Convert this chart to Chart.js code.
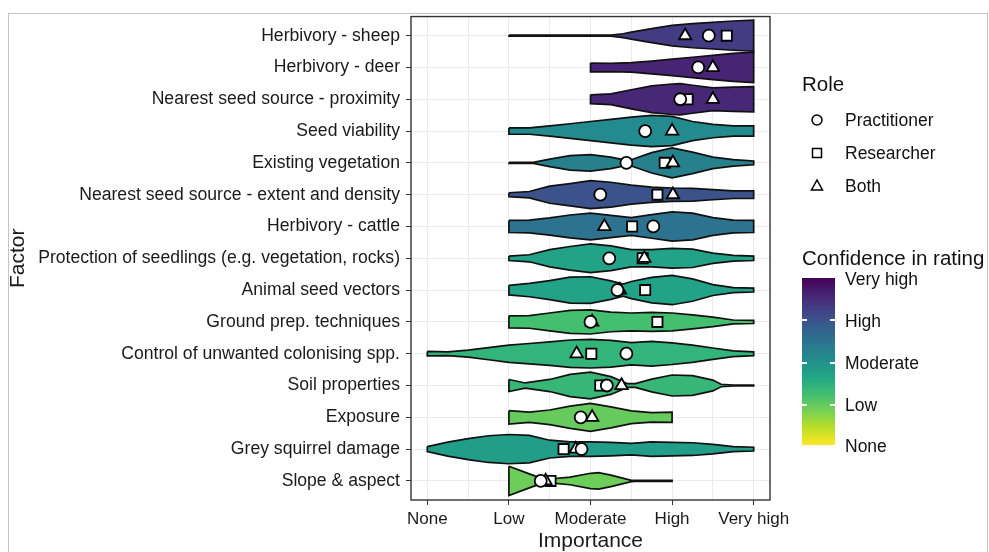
<!DOCTYPE html>
<html>
<head>
<meta charset="utf-8">
<script src="https://cdn.jsdelivr.net/npm/chart.js@4.4.1/dist/chart.umd.min.js"></script>
<style>
  html, body { margin: 0; padding: 0; background: #fff; }
  #wrap { position: relative; width: 989px; height: 552px; overflow: hidden;
          font-family: 'Liberation Sans', Arial, sans-serif; color: #111; }
  #frame { position: absolute; left: 8px; top: 13px; width: 978px; height: 600px;
           border-left: 1px solid #c4c4c4; border-top: 1px solid #c4c4c4; border-right: 1px solid #c4c4c4; }
  #chart { position: absolute; left: 0; top: 0; }
  .lg { position: absolute; white-space: nowrap; line-height: 1; }
  .t20 { font-size: 20.5px; }
  .t17 { font-size: 17.5px; }
  #bar { position: absolute; left: 802px; top: 278px; width: 33px; height: 167px; }
  .tk { position: absolute; height: 1.5px; width: 5px; background: #fff; }
</style>
</head>
<body>
<div id="wrap">
  <div id="frame"></div>
  <canvas id="chart" width="989" height="552"></canvas>

  <div class="lg t20" style="left:802px; top:74px;">Role</div>
  <svg style="position:absolute; left:806px; top:108px;" width="24" height="90">
    <circle cx="11" cy="12" r="5" fill="none" stroke="#000" stroke-width="1.5"/>
    <rect x="6.5" y="40.5" width="9" height="9" fill="none" stroke="#000" stroke-width="1.5"/>
    <polygon points="11,72 16.5,82 5.5,82" fill="none" stroke="#000" stroke-width="1.5"/>
  </svg>
  <div class="lg t17" style="left:845px; top:112px;">Practitioner</div>
  <div class="lg t17" style="left:845px; top:145px;">Researcher</div>
  <div class="lg t17" style="left:845px; top:178px;">Both</div>

  <div class="lg t20" style="left:802px; top:248px;">Confidence in rating</div>
  <div id="bar"></div>
  <div class="lg t17" style="left:845px; top:271px;">Very high</div>
  <div class="lg t17" style="left:845px; top:313px;">High</div>
  <div class="lg t17" style="left:845px; top:355px;">Moderate</div>
  <div class="lg t17" style="left:845px; top:397px;">Low</div>
  <div class="lg t17" style="left:845px; top:438px;">None</div>
</div>
<script>
// factors, top to bottom
const factors = [
  'Herbivory - sheep', 'Herbivory - deer', 'Nearest seed source - proximity',
  'Seed viability', 'Existing vegetation', 'Nearest seed source - extent and density',
  'Herbivory - cattle', 'Protection of seedlings (e.g. vegetation, rocks)',
  'Animal seed vectors', 'Ground prep. techniques', 'Control of unwanted colonising spp.',
  'Soil properties', 'Exposure', 'Grey squirrel damage', 'Slope & aspect'
];
const levels = ['None', 'Low', 'Moderate', 'High', 'Very high'];

// mean confidence in rating (0 = None ... 4 = Very high)
const confidence = [3.3, 3.6, 3.55, 2.1, 2.25, 3.0, 2.5, 1.7, 1.7, 1.2, 1.4, 1.35, 0.95, 1.8, 0.9];

// mean importance by role
const practitioner = [3.45, 3.32, 3.10, 2.67, 2.44, 2.12, 2.77, 2.23, 2.33, 2.00, 2.44, 2.20, 1.88, 1.89, 1.39];
const researcher   = [3.67, null, 3.19, null, 2.91, 2.82, 2.51, 2.64, 2.67, 2.82, 2.01, 2.12, null, 1.67, 1.51];
const both         = [3.16, 3.50, 3.50, 3.00, 3.01, 3.01, 2.17, 2.66, 2.36, 2.02, 1.83, 2.38, 2.02, 1.82, 1.45];

// violin half-widths: [importance, half width in rows]
const violins = [
  [[1,.015],[2.25,.015],[2.4,.06],[2.5,.11],[2.75,.22],[3,.32],[3.25,.38],[3.5,.42],[3.75,.46],[4,.49]],
  [[2,.14],[2.25,.13],[2.5,.15],[2.75,.2],[3,.26],[3.25,.32],[3.5,.38],[3.75,.44],[4,.48]],
  [[2,.14],[2.25,.17],[2.5,.3],[2.75,.42],[3,.48],[3.1,.49],[3.25,.44],[3.5,.36],[3.75,.38],[4,.4]],
  [[1,.1],[1.25,.1],[1.5,.16],[1.75,.23],[2,.3],[2.25,.37],[2.5,.44],[2.75,.49],[3,.46],[3.25,.3],[3.5,.21],[3.75,.16],[4,.16]],
  [[1,.015],[1.3,.015],[1.5,.12],[1.75,.23],[2,.26],[2.25,.18],[2.44,.08],[2.5,.1],[2.75,.32],[3,.47],[3.25,.34],[3.5,.18],[3.75,.1],[4,.06]],
  [[1,.06],[1.25,.1],[1.5,.27],[1.75,.35],[2,.44],[2.25,.39],[2.5,.3],[2.75,.24],[3,.21],[3.25,.2],[3.5,.16],[3.75,.12],[4,.12]],
  [[1,.19],[1.25,.2],[1.5,.27],[1.75,.36],[2,.42],[2.25,.35],[2.5,.28],[2.75,.37],[3,.46],[3.25,.42],[3.5,.28],[3.75,.2],[4,.19]],
  [[1,.07],[1.25,.11],[1.5,.27],[1.75,.37],[2,.45],[2.25,.39],[2.5,.27],[2.75,.27],[3,.31],[3.25,.29],[3.5,.16],[3.75,.09],[4,.07]],
  [[1,.15],[1.25,.21],[1.5,.3],[1.75,.41],[2,.42],[2.25,.29],[2.4,.19],[2.5,.27],[2.75,.4],[3,.46],[3.25,.35],[3.5,.17],[3.75,.08],[4,.06]],
  [[1,.19],[1.25,.2],[1.5,.28],[1.75,.36],[2,.38],[2.25,.31],[2.5,.28],[2.75,.3],[3,.28],[3.25,.22],[3.5,.15],[3.75,.06],[4,.05]],
  [[0,.07],[.25,.06],[.5,.11],[.75,.19],[1,.27],[1.25,.32],[1.5,.37],[1.75,.43],[2,.45],[2.25,.42],[2.5,.35],[2.75,.39],[3,.34],[3.25,.27],[3.5,.18],[3.75,.09],[4,.06]],
  [[1,.19],[1.2,.08],[1.5,.19],[1.75,.35],[2,.42],[2.25,.28],[2.45,.06],[2.55,.06],[2.75,.2],[3,.33],[3.25,.31],[3.5,.17],[3.6,.04],[3.75,.015],[4,.015]],
  [[1,.21],[1.25,.16],[1.5,.23],[1.75,.35],[2,.44],[2.25,.33],[2.5,.2],[2.75,.15],[3,.16]],
  [[0,.08],[.25,.22],[.5,.33],[.75,.42],[1,.46],[1.25,.43],[1.5,.28],[1.75,.23],[2,.23],[2.25,.21],[2.5,.18],[2.75,.23],[3,.21],[3.25,.2],[3.5,.15],[3.75,.08],[4,.06]],
  [[1,.46],[1.25,.22],[1.4,.08],[1.5,.06],[1.75,.12],[2,.24],[2.1,.26],[2.25,.18],[2.5,.02],[2.55,.015],[3,.015]]
];

const viridisStops = ['#440154', '#482475', '#414487', '#355f8d', '#2a788e', '#21918c',
                      '#22a884', '#44bf70', '#7ad151', '#bddf26', '#fde725'];

function hexRgb(h) {
  return [1, 3, 5].map(k => parseInt(h.slice(k, k + 2), 16));
}
function viridis(t) {
  t = Math.min(1, Math.max(0, t)) * 10;
  const i = Math.min(9, Math.floor(t));
  const f = t - i;
  const a = hexRgb(viridisStops[i]), b = hexRgb(viridisStops[i + 1]);
  return 'rgb(' + a.map((v, k) => Math.round(v + (b[k] - v) * f)).join(',') + ')';
}

// colour bar in legend
document.getElementById('bar').style.background =
  'linear-gradient(to bottom, ' + viridisStops.join(', ') + ')';
[41, 84, 126].forEach(y => {
  ['0px', '28px'].forEach(x => {
    const t = document.createElement('div');
    t.className = 'tk';
    t.style.left = x;
    t.style.top = y + 'px';
    document.getElementById('bar').appendChild(t);
  });
});

const n = factors.length;
const rowY = i => n - i;

const violinSets = violins.map((prof, i) => {
  const r = rowY(i);
  const upper = prof.map(([x, w]) => ({x: x, y: r + w}));
  const lower = prof.slice().reverse().map(([x, w]) => ({x: x, y: r - w}));
  return {
    type: 'line',
    data: upper.concat(lower, [upper[0]]),
    backgroundColor: viridis(1 - confidence[i] / 4),
    borderColor: '#111',
    borderWidth: 1.7,
    pointRadius: 0,
    tension: 0,
    fill: 'shape',
    order: 3
  };
});

const markerSet = (vals, style, radius, order) => ({
  type: 'scatter',
  data: vals.map((v, i) => v === null ? null : {x: v, y: rowY(i)}).filter(p => p),
  pointStyle: style,
  pointRadius: radius,
  backgroundColor: '#fff',
  borderColor: '#000',
  borderWidth: 1.8,
  order: order
});

const panelBorder = {
  id: 'panelBorder',
  afterDatasetsDraw(chart) {
    const {ctx, chartArea: a} = chart;
    ctx.save();
    ctx.strokeStyle = '#333';
    ctx.lineWidth = 1.4;
    ctx.strokeRect(a.left, a.top, a.right - a.left, a.bottom - a.top);
    ctx.restore();
  }
};

Chart.defaults.font.family = "'Liberation Sans', Arial, sans-serif";
Chart.defaults.color = '#1a1a1a';

new Chart(document.getElementById('chart'), {
  type: 'scatter',
  data: {
    datasets: [
      markerSet(practitioner, 'circle', 6, 0),
      markerSet(both, 'triangle', 7.2, 1),
      markerSet(researcher, 'rect', 7.2, 2)
    ].concat(violinSets)
  },
  options: {
    responsive: false,
    animation: false,
    devicePixelRatio: 1,
    layout: { padding: { left: 8, right: 219, top: 14, bottom: 0 } },
    plugins: { legend: { display: false }, tooltip: { enabled: false } },
    scales: {
      x: {
        type: 'linear',
        min: -0.2,
        max: 4.2,
        afterBuildTicks: axis => {
          axis.ticks = [0, 0.5, 1, 1.5, 2, 2.5, 3, 3.5, 4].map(v => ({value: v}));
        },
        afterFit: scale => { scale.height = 52; },
        ticks: {
          autoSkip: false,
          maxRotation: 0,
          padding: 4,
          font: { size: 17 },
          callback: v => Number.isInteger(v) ? levels[v] : ''
        },
        grid: {
          color: '#ebebeb',
          lineWidth: 1,
          tickLength: 5,
          tickColor: c => Number.isInteger(c.tick.value) ? '#333' : 'rgba(0,0,0,0)'
        },
        border: { display: false },
        title: {
          display: true,
          text: 'Importance',
          font: { size: 21, lineHeight: 1 },
          padding: { top: 0, bottom: 0 }
        }
      },
      y: {
        type: 'linear',
        min: 0.4,
        max: n + 0.6,
        afterBuildTicks: axis => {
          axis.ticks = factors.map((f, i) => ({value: rowY(i)}));
        },
        afterFit: scale => { scale.width = 403; },
        ticks: {
          autoSkip: false,
          padding: 6,
          font: { size: 17.6 },
          callback: v => factors[n - v]
        },
        grid: {
          color: '#ebebeb',
          lineWidth: 1,
          tickLength: 5,
          tickColor: '#333'
        },
        border: { display: false },
        title: {
          display: true,
          text: 'Factor',
          font: { size: 21, lineHeight: 1 },
          padding: { top: 0, bottom: 0 }
        }
      }
    }
  },
  plugins: [panelBorder]
});
</script>
</body>
</html>
